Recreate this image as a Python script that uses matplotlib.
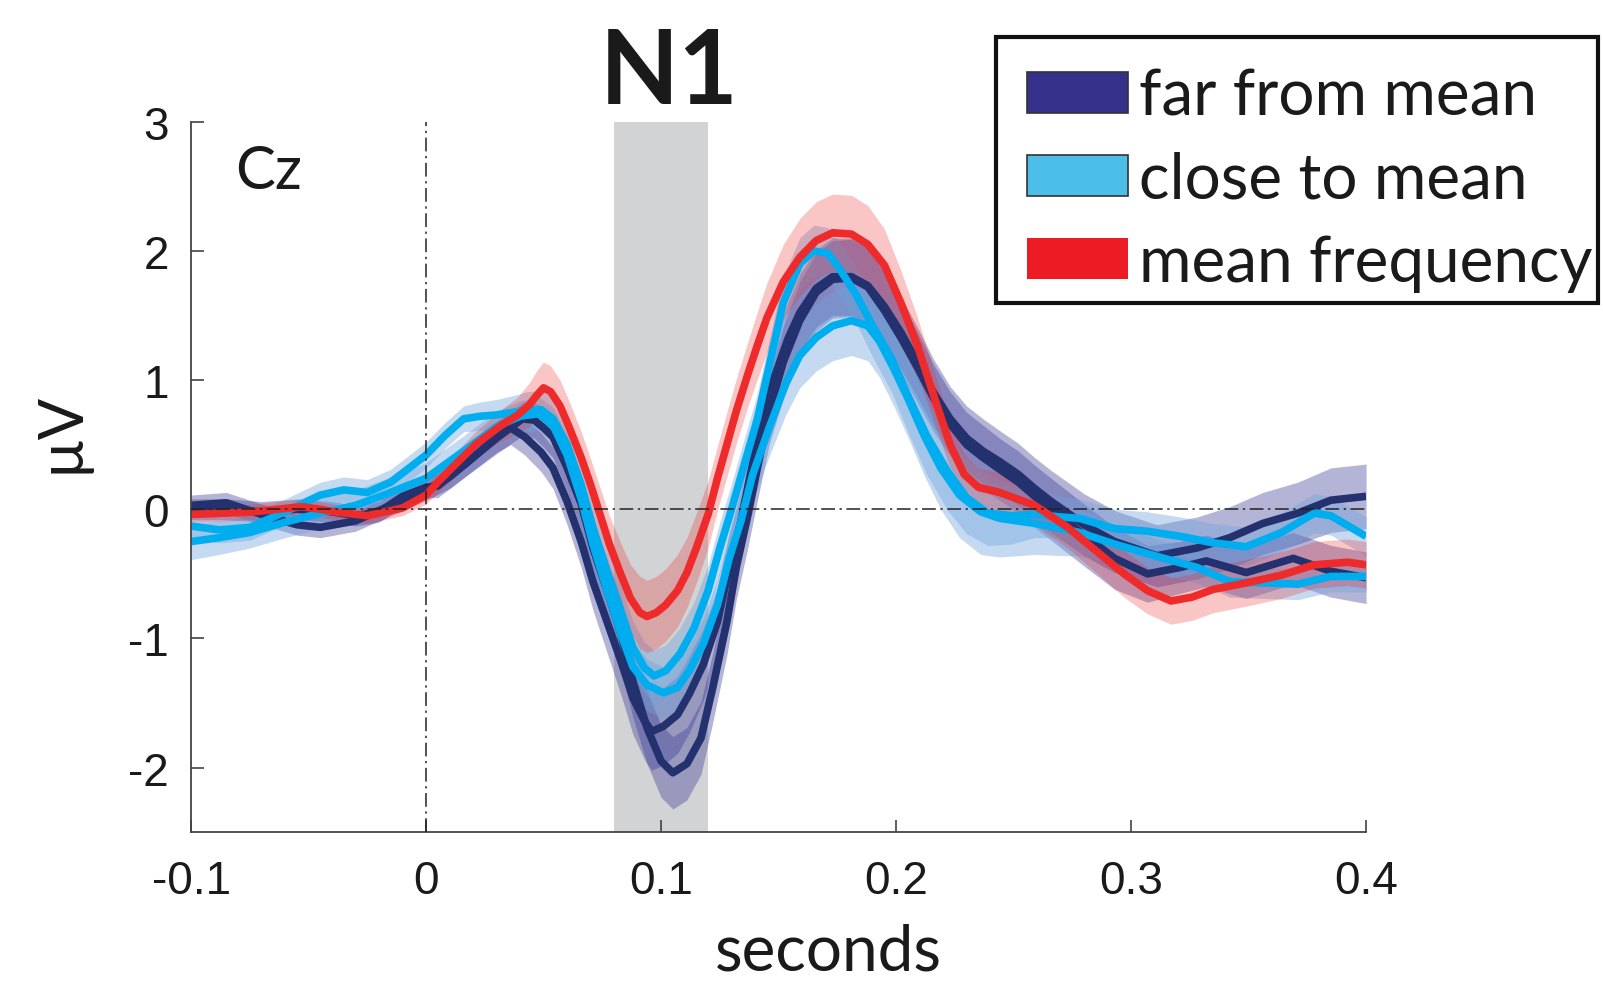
import matplotlib
matplotlib.use("Agg")
import matplotlib.pyplot as plt
from matplotlib.patches import Patch, Rectangle
import numpy as np

plt.rcParams["axes.unicode_minus"] = False
plt.rcParams["font.family"] = ["Liberation Sans", "DejaVu Sans"]

# ---------------------------------------------------------------- data ----
# grand-average ERP at Cz, mean +/- s.e.m. (seconds, microvolts)

# mean frequency
red_t = [-0.100, -0.085, -0.074, -0.063, -0.053, -0.045, -0.039, -0.025, -0.010, 0.000,
         0.005, 0.011, 0.021, 0.032, 0.039, 0.044, 0.047, 0.050, 0.053, 0.057,
         0.061, 0.066, 0.070, 0.074, 0.078, 0.083, 0.087, 0.091, 0.094, 0.098,
         0.102, 0.107, 0.111, 0.115, 0.120, 0.124, 0.128, 0.132, 0.137, 0.141,
         0.145, 0.152, 0.159, 0.166, 0.173, 0.181, 0.188, 0.195, 0.202, 0.209,
         0.216, 0.223, 0.229, 0.235, 0.244, 0.259, 0.273, 0.287, 0.297, 0.307,
         0.317, 0.326, 0.335, 0.349, 0.364, 0.378, 0.392, 0.400]
red_v = [-0.04, -0.03, -0.02, 0.00, 0.02, 0.00, -0.02, -0.05, 0.01, 0.11,
         0.21, 0.32, 0.50, 0.65, 0.73, 0.81, 0.88, 0.94, 0.91, 0.80,
         0.63, 0.40, 0.19, -0.04, -0.27, -0.51, -0.69, -0.80, -0.83, -0.80,
         -0.74, -0.63, -0.49, -0.30, -0.04, 0.24, 0.50, 0.76, 1.05, 1.27,
         1.48, 1.76, 1.95, 2.08, 2.14, 2.13, 2.05, 1.89, 1.60, 1.27,
         0.88, 0.50, 0.27, 0.17, 0.13, 0.03, -0.14, -0.35, -0.50, -0.63,
         -0.71, -0.68, -0.62, -0.57, -0.51, -0.43, -0.41, -0.43]
red_se = [0.06, 0.06, 0.06, 0.06, 0.06, 0.06, 0.06, 0.06, 0.06, 0.07,
          0.08, 0.09, 0.10, 0.12, 0.14, 0.17, 0.19, 0.20, 0.20, 0.20,
          0.20, 0.20, 0.20, 0.21, 0.22, 0.24, 0.26, 0.28, 0.28, 0.28,
          0.28, 0.28, 0.27, 0.27, 0.26, 0.25, 0.25, 0.25, 0.25, 0.26,
          0.27, 0.29, 0.30, 0.30, 0.30, 0.30, 0.30, 0.28, 0.25, 0.22,
          0.20, 0.18, 0.16, 0.15, 0.15, 0.15, 0.16, 0.17, 0.18, 0.18,
          0.18, 0.18, 0.18, 0.18, 0.18, 0.18, 0.18, 0.18]

# far from mean, two conditions
far1_t = [-0.100, -0.085, -0.070, -0.055, -0.045, -0.030, -0.015, 0.000, 0.010, 0.020,
          0.030, 0.036, 0.042, 0.049, 0.054, 0.060, 0.066, 0.071, 0.077, 0.083,
          0.088, 0.093, 0.096, 0.101, 0.107, 0.112, 0.118, 0.124, 0.129, 0.134,
          0.138, 0.142, 0.148, 0.154, 0.159, 0.166, 0.173, 0.181, 0.188, 0.195,
          0.202, 0.209, 0.216, 0.223, 0.230, 0.237, 0.244, 0.252, 0.259, 0.266,
          0.273, 0.280, 0.293, 0.311, 0.328, 0.342, 0.356, 0.371, 0.385, 0.400]
far1_v = [0.03, 0.05, -0.04, -0.12, -0.14, -0.09, 0.03, 0.15, 0.25, 0.40,
          0.56, 0.63, 0.56, 0.44, 0.32, 0.06, -0.25, -0.56, -0.87, -1.18,
          -1.46, -1.64, -1.72, -1.68, -1.59, -1.43, -1.20, -0.87, -0.45, -0.09,
          0.27, 0.60, 1.01, 1.32, 1.52, 1.71, 1.80, 1.80, 1.73, 1.57,
          1.37, 1.14, 0.90, 0.70, 0.55, 0.45, 0.37, 0.27, 0.16, 0.06,
          -0.03, -0.12, -0.25, -0.36, -0.30, -0.22, -0.11, -0.03, 0.07, 0.10]
far1_se = [0.08, 0.08, 0.08, 0.08, 0.08, 0.08, 0.08, 0.08, 0.09, 0.10,
           0.12, 0.13, 0.14, 0.15, 0.16, 0.18, 0.20, 0.22, 0.24, 0.26,
           0.28, 0.30, 0.30, 0.30, 0.30, 0.30, 0.28, 0.27, 0.26, 0.25,
           0.25, 0.25, 0.26, 0.28, 0.30, 0.30, 0.30, 0.30, 0.30, 0.29,
           0.28, 0.27, 0.26, 0.25, 0.25, 0.25, 0.24, 0.24, 0.24, 0.24,
           0.24, 0.24, 0.24, 0.24, 0.24, 0.24, 0.24, 0.24, 0.25, 0.25]

far2_t = [-0.100, -0.085, -0.070, -0.055, -0.040, -0.030, -0.020, -0.010, 0.000, 0.005,
          0.018, 0.030, 0.041, 0.046, 0.050, 0.054, 0.060, 0.066, 0.071, 0.077,
          0.083, 0.088, 0.094, 0.100, 0.105, 0.111, 0.117, 0.122, 0.128, 0.132,
          0.137, 0.141, 0.146, 0.152, 0.159, 0.166, 0.173, 0.181, 0.188, 0.195,
          0.202, 0.209, 0.216, 0.223, 0.230, 0.237, 0.244, 0.252, 0.259, 0.266,
          0.273, 0.280, 0.293, 0.307, 0.321, 0.332, 0.349, 0.369, 0.385, 0.400]
far2_v = [0.00, 0.00, -0.02, 0.00, -0.02, -0.05, -0.02, 0.10, 0.17, 0.18,
          0.37, 0.55, 0.70, 0.69, 0.63, 0.56, 0.32, 0.04, -0.30, -0.63,
          -0.97, -1.33, -1.69, -1.95, -2.04, -1.97, -1.77, -1.38, -0.87, -0.45,
          -0.04, 0.32, 0.76, 1.14, 1.46, 1.68, 1.78, 1.79, 1.72, 1.54,
          1.33, 1.10, 0.86, 0.66, 0.50, 0.40, 0.31, 0.21, 0.10, 0.00,
          -0.10, -0.20, -0.38, -0.50, -0.45, -0.40, -0.49, -0.38, -0.48, -0.53]
far2_se = [0.08, 0.08, 0.08, 0.08, 0.08, 0.08, 0.08, 0.08, 0.08, 0.09,
           0.10, 0.12, 0.13, 0.14, 0.15, 0.16, 0.18, 0.20, 0.22, 0.25,
           0.27, 0.28, 0.28, 0.28, 0.28, 0.28, 0.28, 0.27, 0.26, 0.25,
           0.25, 0.25, 0.26, 0.28, 0.30, 0.30, 0.30, 0.30, 0.30, 0.29,
           0.28, 0.27, 0.26, 0.25, 0.25, 0.25, 0.24, 0.24, 0.24, 0.24,
           0.24, 0.24, 0.24, 0.22, 0.20, 0.20, 0.20, 0.20, 0.20, 0.20]

# close to mean, two conditions
close1_t = [-0.100, -0.088, -0.075, -0.060, -0.045, -0.035, -0.025, -0.015, 0.000, 0.008,
            0.016, 0.023, 0.030, 0.037, 0.043, 0.049, 0.054, 0.060, 0.066, 0.071,
            0.077, 0.083, 0.088, 0.093, 0.097, 0.102, 0.108, 0.114, 0.120, 0.125,
            0.130, 0.135, 0.141, 0.146, 0.152, 0.159, 0.165, 0.171, 0.176, 0.183,
            0.190, 0.198, 0.205, 0.213, 0.222, 0.230, 0.239, 0.249, 0.259, 0.270,
            0.278, 0.293, 0.307, 0.321, 0.335, 0.349, 0.364, 0.378, 0.385, 0.400]
close1_v = [-0.13, -0.16, -0.14, -0.02, 0.11, 0.15, 0.13, 0.21, 0.42, 0.57,
            0.70, 0.72, 0.73, 0.75, 0.77, 0.77, 0.70, 0.50, 0.19, -0.14,
            -0.48, -0.79, -1.07, -1.23, -1.29, -1.25, -1.12, -0.92, -0.63, -0.30,
            0.00, 0.32, 0.70, 1.11, 1.60, 1.90, 2.00, 1.98, 1.86, 1.66,
            1.42, 1.17, 0.88, 0.57, 0.29, 0.09, -0.03, -0.05, -0.04, -0.06,
            -0.07, -0.15, -0.17, -0.21, -0.26, -0.29, -0.18, -0.03, -0.05, -0.21]
close1_se = [0.10, 0.10, 0.10, 0.10, 0.10, 0.10, 0.10, 0.10, 0.10, 0.10,
             0.10, 0.11, 0.12, 0.13, 0.14, 0.15, 0.16, 0.18, 0.20, 0.20,
             0.20, 0.20, 0.20, 0.20, 0.20, 0.20, 0.20, 0.20, 0.20, 0.20,
             0.20, 0.20, 0.20, 0.20, 0.20, 0.20, 0.20, 0.20, 0.21, 0.22,
             0.24, 0.26, 0.28, 0.30, 0.30, 0.28, 0.25, 0.22, 0.18, 0.16,
             0.15, 0.15, 0.15, 0.15, 0.15, 0.15, 0.15, 0.15, 0.15, 0.15]

close2_t = [-0.100, -0.088, -0.075, -0.060, -0.045, -0.030, -0.018, 0.000, 0.016, 0.030,
            0.040, 0.048, 0.054, 0.060, 0.066, 0.071, 0.077, 0.083, 0.088, 0.094,
            0.101, 0.107, 0.112, 0.118, 0.124, 0.129, 0.134, 0.139, 0.146, 0.153,
            0.159, 0.166, 0.173, 0.181, 0.188, 0.193, 0.199, 0.205, 0.212, 0.219,
            0.227, 0.236, 0.244, 0.259, 0.273, 0.278, 0.293, 0.314, 0.328, 0.342,
            0.356, 0.371, 0.385, 0.400]
close2_v = [-0.25, -0.22, -0.18, -0.10, -0.03, 0.03, 0.11, 0.24, 0.45, 0.64,
            0.72, 0.74, 0.65, 0.42, 0.08, -0.27, -0.63, -0.97, -1.22, -1.36,
            -1.42, -1.38, -1.25, -1.04, -0.74, -0.38, -0.09, 0.27, 0.63, 0.97,
            1.19, 1.33, 1.42, 1.46, 1.42, 1.30, 1.09, 0.86, 0.57, 0.32,
            0.11, -0.02, -0.07, -0.11, -0.16, -0.18, -0.27, -0.38, -0.45, -0.56,
            -0.57, -0.58, -0.52, -0.52]
close2_se = [0.14, 0.13, 0.12, 0.12, 0.12, 0.12, 0.12, 0.12, 0.12, 0.12,
             0.12, 0.13, 0.14, 0.16, 0.18, 0.19, 0.20, 0.20, 0.20, 0.20,
             0.20, 0.20, 0.20, 0.20, 0.20, 0.20, 0.20, 0.21, 0.22, 0.24,
             0.25, 0.26, 0.27, 0.27, 0.27, 0.28, 0.29, 0.30, 0.31, 0.32,
             0.33, 0.33, 0.30, 0.24, 0.20, 0.18, 0.15, 0.13, 0.12, 0.12,
             0.12, 0.12, 0.12, 0.12]

legend_labels = ["far from mean", "close to mean", "mean frequency"]
n1_window = (0.08, 0.12)
xtick_vals = [-0.1, 0.0, 0.1, 0.2, 0.3, 0.4]
xtick_labels = ["-0.1", "0", "0.1", "0.2", "0.3", "0.4"]
ytick_vals = [-2, -1, 0, 1, 2, 3]
ytick_labels = ["-2", "-1", "0", "1", "2", "3"]

# --------------------------------------------------------------- style ----
navy_line, navy_fill, navy_patch = "#24316f", "#3b3b98", "#35308a"
blue_line, blue_fill, blue_patch = "#00aeef", "#6fa3dc", "#4bbfea"
red_line, red_fill, red_patch = "#ee2a2b", "#ee2a2b", "#ed1c24"
txt_font = ["Lato", "DejaVu Sans"]
W, H = 1603, 987

fig = plt.figure(figsize=(W / 100, H / 100), dpi=100)
ax = fig.add_axes([0.1192, 0.1558, 0.7330, 0.7199])

ax.axvspan(*n1_window, color="#d1d3d4", lw=0, zorder=0)

curves = [
    (far1_t, far1_v, far1_se, navy_line, navy_fill, 0.38),
    (far2_t, far2_v, far2_se, navy_line, navy_fill, 0.38),
    (close1_t, close1_v, close1_se, blue_line, blue_fill, 0.40),
    (close2_t, close2_v, close2_se, blue_line, blue_fill, 0.40),
    (red_t, red_v, red_se, red_line, red_fill, 0.27),
]
for t, v, se, _, fc, a in curves:
    t, v, se = np.asarray(t), np.asarray(v), np.asarray(se)
    ax.fill_between(t, v - se, v + se, color=fc, alpha=a, lw=0, zorder=1)
for t, v, se, lc, _, _ in curves:
    ax.plot(t, v, color=lc, lw=5.5, solid_capstyle="butt",
            solid_joinstyle="round", zorder=2)

# zero references
dashdot = (0, (9, 3, 1.5, 3))
ax.axhline(0, color="#222222", lw=1.1, linestyle=dashdot, zorder=3)
ax.axvline(0, color="#222222", lw=1.1, linestyle=dashdot, zorder=3)

ax.set_xlim(-0.1, 0.4)
ax.set_ylim(-2.5, 3)
ax.set_xticks(xtick_vals)
ax.set_xticklabels(xtick_labels)
ax.set_yticks(ytick_vals)
ax.set_yticklabels(ytick_labels)
ax.tick_params(direction="in", length=9, width=1.1, labelsize=33,
               color="#333333", labelcolor="#1a1a1a")
ax.tick_params(axis="x", pad=19)
ax.tick_params(axis="y", pad=16)
for s in ("top", "right"):
    ax.spines[s].set_visible(False)
for s in ("left", "bottom"):
    ax.spines[s].set_color("#444444")
    ax.spines[s].set_linewidth(1.3)
ax.set_facecolor("none")

ax.text(0.0375, 0.907, "Cz", transform=ax.transAxes, fontsize=43,
        family=txt_font, color="#1a1a1a", va="baseline")
ax.text(0.1035, 1.026, "N1", transform=ax.get_xaxis_transform(), fontsize=74,
        family=txt_font, weight="bold", color="#1a1a1a", ha="center",
        va="baseline", clip_on=False)

fig.text(828 / W, 1 - 971 / H, "seconds", ha="center", va="baseline",
         fontsize=46, family=txt_font, color="#1a1a1a")
fig.text(61 / W, 1 - 432 / H, "\u00b5V", ha="center", va="center",
         rotation=90, fontsize=44, family=txt_font, color="#1a1a1a")

# legend entries without frame, box drawn separately
handles = [
    Patch(facecolor=navy_patch, edgecolor="#333333", lw=1.2),
    Patch(facecolor=blue_patch, edgecolor="#333333", lw=1.2),
    Patch(facecolor=red_patch, edgecolor="none"),
]
leg = fig.legend(handles, legend_labels, loc="upper left",
                 bbox_to_anchor=(1027 / W, 1 - 69 / H),
                 prop={"family": txt_font, "size": 46},
                 handlelength=1.58, handleheight=0.6, handletextpad=0.18,
                 labelspacing=0.39, borderpad=0, borderaxespad=0,
                 frameon=False)
for txt in leg.get_texts():
    txt.set_color("#1a1a1a")
fig.patches.append(Rectangle((996 / W, 1 - 304 / H), 602 / W, 266 / H,
                             transform=fig.transFigure, fill=False,
                             edgecolor="#111111", lw=3))

fig.savefig("out.png", dpi=100)
